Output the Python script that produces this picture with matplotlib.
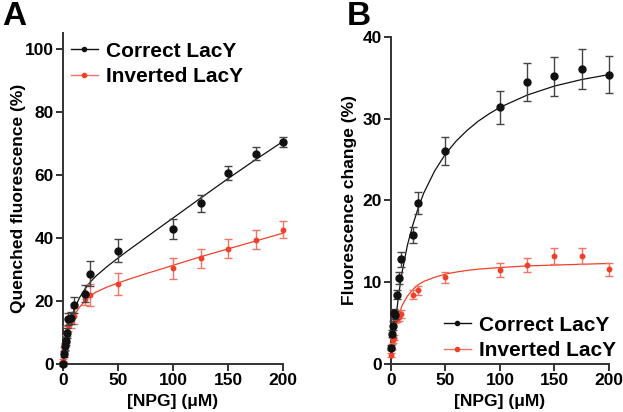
import matplotlib.pyplot as plt
from matplotlib.lines import Line2D

plt.rcParams['font.family'] = ['Liberation Sans', 'DejaVu Sans']
plt.rcParams['font.weight'] = 'bold'

# ---- panel A data ----
xA = [0, 1, 2, 3, 4, 5, 7.5, 10, 20, 25, 50, 100, 125, 150, 175, 200]
yA_cor = [0, 3.1, 5.6, 7.3, 9.8, 14.3, 14.6, 18.8, 22.3, 28.7, 36.0, 42.7, 51.0, 60.7, 66.7, 70.4]
eA_cor = [0.5, 1.0, 1.2, 1.3, 1.5, 1.8, 1.8, 2.5, 2.6, 4.0, 3.5, 3.2, 2.7, 2.2, 2.0, 1.7]
yA_inv = [1.0, 4.7, 5.2, 8.0, 10.5, 12.5, 13.5, 15.3, 20.6, 22.0, 25.5, 30.3, 33.6, 36.6, 39.4, 42.6]
eA_inv = [0.5, 0.8, 1.0, 1.2, 1.5, 2.0, 2.0, 2.5, 2.0, 3.5, 3.5, 3.3, 3.0, 3.0, 3.0, 2.7]

# fitted curves
fxA = [0, 1, 2, 3, 5, 7.5, 10, 15, 20, 25, 30, 40, 50, 60, 75, 90, 100, 125, 150, 175, 200]
fA_cor = [0, 2.6, 5.0, 7.1, 10.8, 14.4, 17.2, 21.0, 23.8, 26.1, 27.9, 30.9, 33.6, 36.2, 40.0, 43.8, 46.3, 52.6, 58.8, 64.8, 70.6]
fA_inv = [0, 2.8, 5.3, 7.4, 10.8, 13.5, 15.4, 18.0, 20.0, 21.6, 22.8, 24.4, 25.7, 26.9, 28.6, 30.2, 31.3, 34.0, 36.5, 39.0, 41.5]

# ---- panel B data ----
xB = [0.3, 1, 2, 3, 4, 5.5, 7.5, 9.5, 20, 25, 50, 100, 125, 150, 175, 200]
yB_cor = [2.0, 3.7, 4.7, 6.2, 6.0, 8.5, 10.5, 12.8, 15.8, 19.7, 26.1, 31.4, 34.5, 35.2, 36.1, 35.4]
eB_cor = [0.3, 0.4, 0.5, 0.5, 0.5, 0.6, 0.7, 0.9, 1.0, 1.3, 1.7, 2.0, 2.3, 2.4, 2.4, 2.3]
yB_inv = [1.1, 2.1, 2.9, 3.2, 5.4, 5.5, 5.8, 6.1, 8.5, 9.0, 10.6, 11.5, 12.1, 13.2, 13.2, 11.6]
eB_inv = [0.2, 0.3, 0.3, 0.3, 0.4, 0.4, 0.5, 0.5, 0.6, 0.6, 0.7, 0.8, 0.9, 1.0, 1.0, 0.8]

fxB = [0, 1, 2, 3, 5, 7.5, 10, 15, 20, 25, 30, 40, 50, 60, 70, 80, 90, 100, 125, 150, 175, 200]
fB_cor = [0, 1.4, 2.7, 4.0, 6.3, 8.9, 11.1, 14.5, 17.0, 19.1, 20.9, 23.6, 25.7, 27.3, 28.6, 29.7, 30.6, 31.4, 32.9, 34.0, 34.8, 35.4]
fB_inv = [0, 1.4, 2.6, 3.5, 4.9, 6.1, 7.1, 8.3, 9.1, 9.7, 10.1, 10.6, 11.0, 11.25, 11.45, 11.6, 11.7, 11.8, 12.0, 12.1, 12.2, 12.3]

BLACK = '#111111'
EBLACK = '#444444'
RED = '#f0402a'
ERED = '#f07565'

fig = plt.figure(figsize=(6.23, 4.12), dpi=100)
axA = fig.add_axes([0.1011, 0.1165, 0.3532, 0.8035])
axB = fig.add_axes([0.6276, 0.1165, 0.3499, 0.7937])


def draw(ax, x, yc, ec, yi, ei, fx, fc, fi):
    ax.plot(fx, fc, color=BLACK, lw=0.9, clip_on=False, zorder=2)
    ax.plot(fx, fi, color=RED, lw=0.9, clip_on=False, zorder=2)
    ax.errorbar(x, yi, yerr=ei, fmt='o', color=RED, ecolor=ERED, ms=3.2,
                elinewidth=1.0, capsize=3, capthick=1.0, clip_on=False, zorder=3)
    ax.errorbar(x, yc, yerr=ec, fmt='o', color=BLACK, ecolor=EBLACK, ms=5,
                elinewidth=1.0, capsize=3, capthick=1.0, clip_on=False, zorder=4)
    for s in ['top', 'right']:
        ax.spines[s].set_visible(False)
    for s in ['left', 'bottom']:
        ax.spines[s].set_linewidth(1.4)
        ax.spines[s].set_color('#333333')
    ax.tick_params(direction='out', length=5, width=1.4, color='#333333',
                   labelsize=12.5, pad=1.5)
    for lab in ax.get_xticklabels() + ax.get_yticklabels():
        lab.set_fontweight('bold')
    ax.set_xlim(0, 200)
    ax.set_xticks([0, 50, 100, 150, 200])
    ax.set_xlabel('[NPG] (μM)', fontsize=12.5, fontweight='bold', labelpad=4)


draw(axA, xA, yA_cor, eA_cor, yA_inv, eA_inv, fxA, fA_cor, fA_inv)
axA.set_ylim(0, 105)
axA.set_yticks([0, 20, 40, 60, 80, 100])
axA.set_ylabel('Quenched fluorescence (%)', fontsize=12.5, fontweight='bold', labelpad=-1)

draw(axB, xB, yB_cor, eB_cor, yB_inv, eB_inv, fxB, fB_cor, fB_inv)
axB.set_ylim(0, 40)
axB.set_yticks([0, 10, 20, 30, 40])
axB.set_ylabel('Fluorescence change (%)', fontsize=12.5, fontweight='bold', labelpad=4)

handles = [Line2D([], [], color=BLACK, lw=1, marker='o', ms=3),
           Line2D([], [], color=ERED, lw=1, marker='o', ms=3, mfc=RED, mec=RED)]
labels = ['Correct LacY', 'Inverted LacY']
axA.legend(handles, labels, loc='upper left', bbox_to_anchor=(-0.05, 1.03), frameon=False,
           prop={'size': 15, 'weight': 'bold'}, handlelength=1.3, handletextpad=0.4,
           labelspacing=0.3)
axB.legend(handles, labels, loc='lower right', bbox_to_anchor=(1.12, -0.045), frameon=False,
           prop={'size': 15, 'weight': 'bold'}, handlelength=1.3, handletextpad=0.4,
           labelspacing=0.3)

fig.text(0.003, 0.998, 'A', fontsize=24, fontweight='bold', va='top', ha='left')
fig.text(0.557, 0.998, 'B', fontsize=24, fontweight='bold', va='top', ha='left')

fig.savefig('out.png', dpi=100)
